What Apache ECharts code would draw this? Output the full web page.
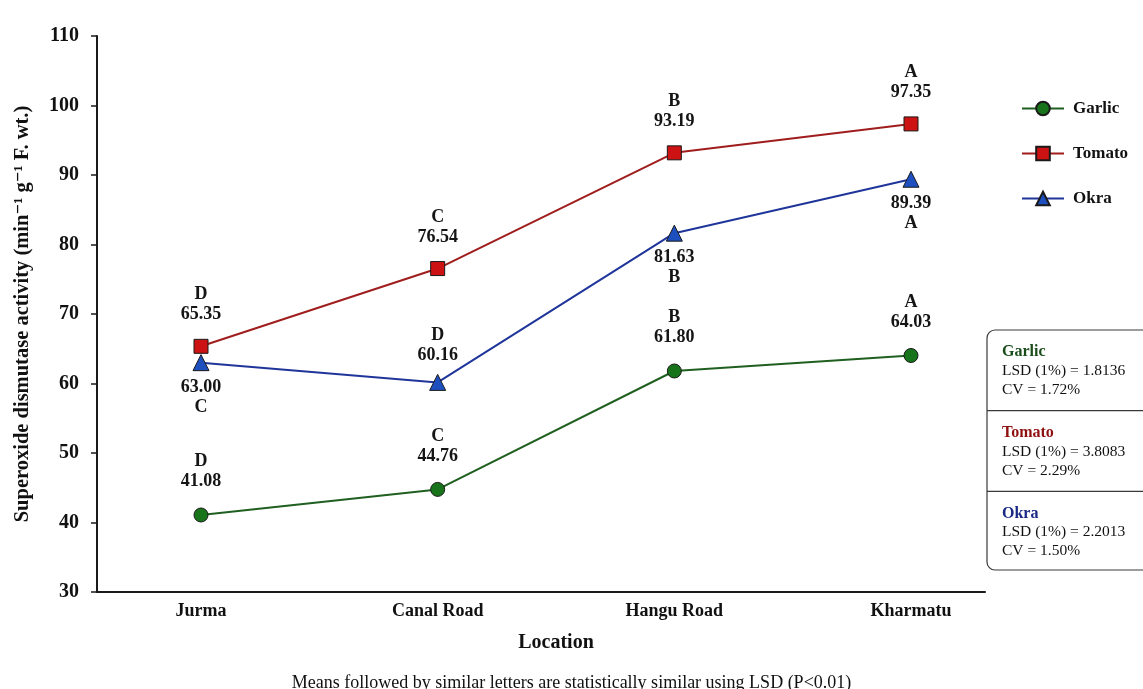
<!DOCTYPE html>
<html>
<head>
<meta charset="utf-8">
<script src="https://cdn.jsdelivr.net/npm/echarts@6/dist/echarts.min.js"></script>
<style>
  html, body { margin: 0; padding: 0; background: #fff; }
  #chart { width: 1143px; height: 689px; }
</style>
</head>
<body>
<div id="chart"></div>
<script>
// Superoxide dismutase activity by sampling location
const locations = ['Jurma', 'Canal Road', 'Hangu Road', 'Kharmatu'];
const seriesNames = ['Garlic', 'Tomato', 'Okra'];

const garlicValues = [41.08, 44.76, 61.80, 64.03];
const tomatoValues = [65.35, 76.54, 93.19, 97.35];
const okraValues = [63.00, 60.16, 81.63, 89.39];

const garlicLetters = ['D', 'C', 'B', 'A'];
const tomatoLetters = ['D', 'C', 'B', 'A'];
const okraLetters = ['C', 'D', 'B', 'A'];
// label side for each okra point
const okraLabelSides = ['bottom', 'top', 'bottom', 'bottom'];

const yTicks = [30, 40, 50, 60, 70, 80, 90, 100, 110];

const lsdValues = ['1.8136', '3.8083', '2.2013'];
const cvValues = ['1.72%', '2.29%', '1.50%'];

const footnote = 'Means followed by similar letters are statistically similar using LSD (P<0.01)';

const SERIF = '"Liberation Serif", "DejaVu Serif", serif';
const colors = {
  Garlic: { line: '#1f5f1f', fill: '#17741a', title: '#1b4d1b' },
  Tomato: { line: '#a01d1d', fill: '#cc1212', title: '#8e1111' },
  Okra:   { line: '#1f359a', fill: '#1d4fbf', title: '#1a2a84' }
};

const labelRich = {
  t: { fontFamily: SERIF, fontWeight: 'bold', fontSize: 18, color: '#151515', lineHeight: 20, align: 'center' }
};

function buildData(values, letters, sides, topGap) {
  return values.map((v, i) => {
    const side = sides ? sides[i] : 'top';
    const text = side === 'top'
      ? '{t|' + letters[i] + '}\n{t|' + v.toFixed(2) + '}'
      : '{t|' + v.toFixed(2) + '}\n{t|' + letters[i] + '}';
    return {
      value: v,
      label: { show: true, position: side, distance: side === 'top' ? topGap : 6, formatter: text, rich: labelRich }
    };
  });
}

function lineSeries(name, values, letters, sides, topGap, symbol, size) {
  const c = colors[name];
  return {
    name: name,
    type: 'line',
    xAxisIndex: 1,
    yAxisIndex: 1,
    data: buildData(values, letters, sides, topGap),
    symbol: symbol,
    symbolSize: size,
    lineStyle: { color: c.line, width: 2 },
    itemStyle: { color: c.fill, borderColor: '#1a1a1a', borderWidth: 1 },
    emphasis: { disabled: true },
    z: 3
  };
}

// statistics panel on the right
const boxLeft = 987, boxTop = 330, boxH = 240, sectionH = 80.7;
const panel = [{
  type: 'rect',
  shape: { x: boxLeft, y: boxTop, width: 175, height: boxH, r: 8 },
  style: { fill: '#fff', stroke: '#3a3a3a', lineWidth: 1.2 }
}];
seriesNames.forEach((n, i) => {
  const top = boxTop + i * sectionH;
  if (i > 0) {
    panel.push({
      type: 'line',
      shape: { x1: boxLeft, y1: top, x2: 1143, y2: top },
      style: { stroke: '#3a3a3a', lineWidth: 1.2 }
    });
  }
  panel.push({
    type: 'text', x: 1002, y: top + 22,
    style: { text: n, font: 'bold 16px ' + SERIF, fill: colors[n].title, verticalAlign: 'middle' }
  });
  panel.push({
    type: 'text', x: 1002, y: top + 41,
    style: { text: 'LSD (1%) = ' + lsdValues[i], font: '15.5px ' + SERIF, fill: '#111', verticalAlign: 'middle' }
  });
  panel.push({
    type: 'text', x: 1002, y: top + 60,
    style: { text: 'CV = ' + cvValues[i], font: '15.5px ' + SERIF, fill: '#111', verticalAlign: 'middle' }
  });
});

const chart = echarts.init(document.getElementById('chart'), null, { renderer: 'canvas' });

chart.setOption({
  animation: false,
  backgroundColor: '#fff',
  title: {
    text: footnote,
    left: 'center',
    top: 669,
    textStyle: { fontFamily: SERIF, fontWeight: 'normal', fontSize: 18, color: '#111' }
  },
  legend: {
    data: seriesNames,
    orient: 'vertical',
    left: 1016,
    top: 95,
    itemWidth: 42,
    itemHeight: 17,
    itemGap: 28,
    textStyle: { fontFamily: SERIF, fontWeight: 'bold', fontSize: 17, color: '#111', padding: [0, 0, 0, 4] },
    selectedMode: false
  },
  grid: [
    { left: 97, right: 158, top: 36, bottom: 97 },
    { left: 201, right: 232, top: 36, bottom: 97 }
  ],
  xAxis: [
    {
      gridIndex: 0,
      type: 'category',
      data: locations,
      axisLine: { lineStyle: { color: '#1a1a1a', width: 2 } },
      axisTick: { show: false },
      axisLabel: { show: false },
      splitLine: { show: false }
    },
    {
      gridIndex: 1,
      type: 'category',
      data: locations,
      boundaryGap: false,
      name: 'Location',
      nameLocation: 'middle',
      nameGap: 41,
      nameTextStyle: { fontFamily: SERIF, fontWeight: 'bold', fontSize: 20, color: '#111' },
      axisLine: { show: false },
      axisTick: { show: false },
      axisLabel: { margin: 10, fontFamily: SERIF, fontWeight: 'bold', fontSize: 18, color: '#111' },
      splitLine: { show: false }
    }
  ],
  yAxis: [
    {
      gridIndex: 0,
      type: 'value',
      min: yTicks[0],
      max: yTicks[yTicks.length - 1],
      interval: 10,
      name: 'Superoxide dismutase activity (min\u207B\u00B9 g\u207B\u00B9 F. wt.)',
      nameLocation: 'middle',
      nameGap: 64,
      nameTextStyle: { fontFamily: SERIF, fontWeight: 'bold', fontSize: 20.5, color: '#111' },
      axisLine: { show: true, lineStyle: { color: '#1a1a1a', width: 2 } },
      axisTick: { show: true, length: 6, lineStyle: { color: '#1a1a1a', width: 1.5 } },
      axisLabel: { margin: 18, fontFamily: SERIF, fontWeight: 'bold', fontSize: 20, color: '#111' },
      splitLine: { show: false }
    },
    {
      gridIndex: 1,
      type: 'value',
      min: yTicks[0],
      max: yTicks[yTicks.length - 1],
      interval: 10,
      show: false
    }
  ],
  series: [
    lineSeries('Garlic', garlicValues, garlicLetters, null, 16, 'circle', 14),
    lineSeries('Tomato', tomatoValues, tomatoLetters, null, 14, 'rect', 14),
    lineSeries('Okra', okraValues, okraLetters, okraLabelSides, 9, 'triangle', 16)
  ],
  graphic: panel
});
</script>
</body>
</html>
